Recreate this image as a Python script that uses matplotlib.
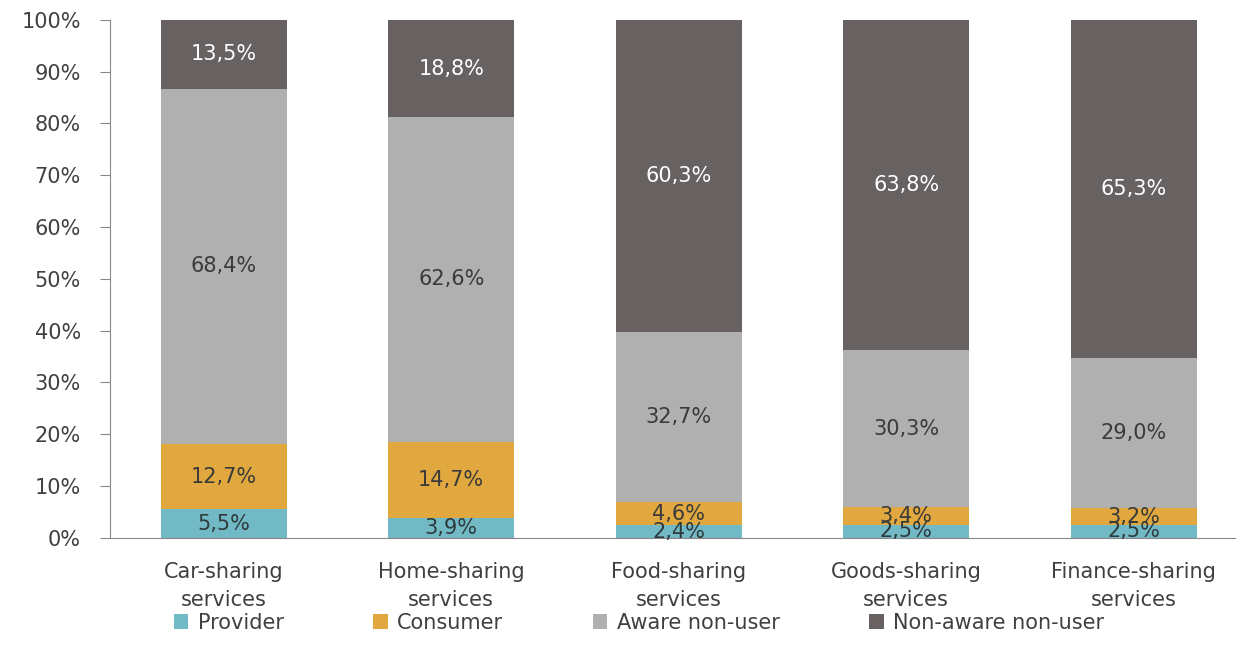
import numpy as np
import matplotlib.pyplot as plt

categories = ['Car-sharing\nservices', 'Home-sharing\nservices', 'Food-sharing\nservices',
              'Goods-sharing\nservices', 'Finance-sharing\nservices']
series = ['Provider', 'Consumer', 'Aware non-user', 'Non-aware non-user']
provider = [5.5, 3.9, 2.4, 2.5, 2.5]
consumer = [12.7, 14.7, 4.6, 3.4, 3.2]
aware = [68.4, 62.6, 32.7, 30.3, 29.0]
non_aware = [13.5, 18.8, 60.3, 63.8, 65.3]

colors = ['#72b9c6', '#e0a83e', '#b0b0b0', '#676261']
text_colors = ['#2f3a3c', '#3a3a3a', '#3a3a3a', '#ffffff']

plt.rcParams['font.family'] = ['DejaVu Sans']

fig = plt.figure(figsize=(12.36, 6.6), dpi=100)
ax = fig.add_axes([0.089, 0.185, 0.911, 0.785])

x = np.arange(len(categories))
bottom = np.zeros(len(categories))
for vals, name, c, tc in zip([provider, consumer, aware, non_aware], series, colors, text_colors):
    vals = np.array(vals)
    ax.bar(x, vals, 0.555, bottom=bottom, color=c, label=name)
    for xi, b, v in zip(x, bottom, vals):
        ax.text(xi, b + v / 2, f'{v:.1f}%'.replace('.', ','), ha='center', va='center',
                fontsize=15, color=tc)
    bottom += vals

ax.set_xlim(-0.5, 4.45)
ax.set_ylim(0, 100)
ax.set_yticks(np.arange(0, 101, 10))
ax.set_yticklabels([f'{v}%' for v in range(0, 101, 10)], fontsize=15, color='#404040')
ax.set_xticks(x)
ax.set_xticklabels(categories, fontsize=15, color='#404040', linespacing=1.55)
ax.tick_params(axis='x', length=0, pad=17)
ax.tick_params(axis='y', length=7, color='#888888', pad=14)
for s in ['top', 'right']:
    ax.spines[s].set_visible(False)
ax.spines['left'].set_color('#888888')
ax.spines['bottom'].set_color('#888888')

leg = fig.legend(loc='center', bbox_to_anchor=(0.517, 0.056), ncol=4, frameon=False,
                 fontsize=15, handlelength=0.7, handleheight=0.7, handletextpad=0.45,
                 columnspacing=4.3)
for t in leg.get_texts():
    t.set_color('#404040')

fig.savefig('out.png', dpi=100)
